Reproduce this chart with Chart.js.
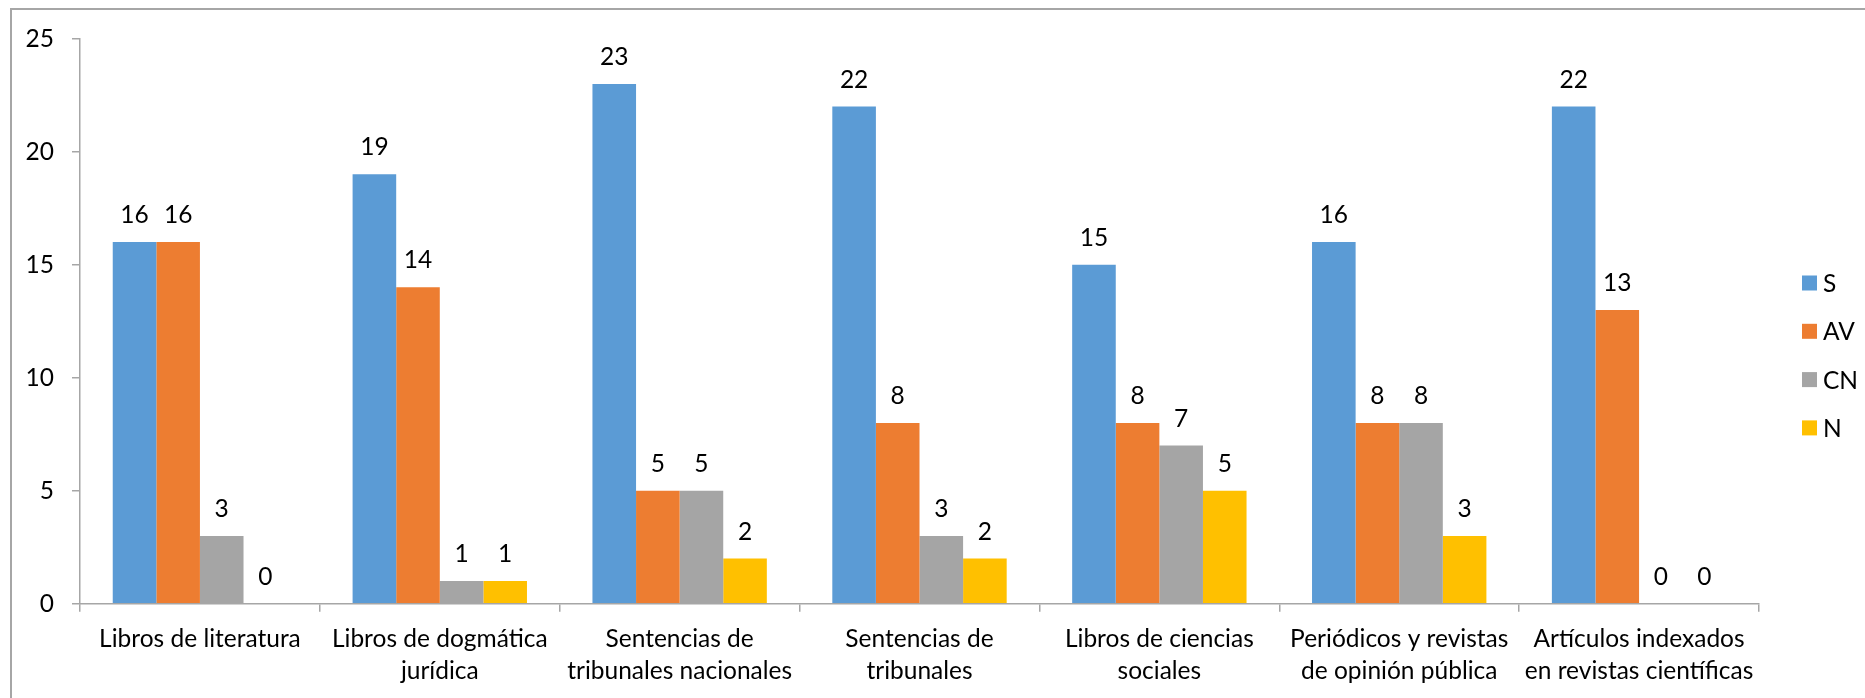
<!DOCTYPE html>
<html>
<head>
<meta charset="utf-8">
<script src="https://cdn.jsdelivr.net/npm/chart.js@4/dist/chart.umd.min.js"></script>
<style>
  html, body { margin: 0; padding: 0; background: #fff; }
  #wrap { width: 1865px; height: 698px; position: relative; }
</style>
</head>
<body>
<div id="wrap"><canvas id="fuentesChart" width="1865" height="698"></canvas></div>
<script>
// categorias (eje x)
const categorias = [
    'Libros de literatura',
    ['Libros de dogmática', 'jurídica'],
    ['Sentencias de', 'tribunales nacionales'],
    ['Sentencias de', 'tribunales'],
    ['Libros de ciencias', 'sociales'],
    ['Periódicos y revistas', 'de opinión pública'],
    ['Artículos indexados', 'en revistas científicas']
];

// series
const serieS  = [16, 19, 23, 22, 15, 16, 22];
const serieAV = [16, 14, 5, 8, 8, 8, 13];
const serieCN = [3, 1, 5, 3, 7, 8, 0];
const serieN  = [0, 1, 2, 2, 5, 3, 0];

const yTicks = [0, 5, 10, 15, 20, 25];

const FONT = 'Lato, "Noto Sans", sans-serif';
const FONT_SIZE = 24.5;
const AXIS_COLOR = '#a6a6a6';

// etiquetas encima de cada barra
const valueLabels = {
    id: 'valueLabels',
    afterDatasetsDraw(chart) {
        const ctx = chart.ctx;
        ctx.save();
        ctx.font = FONT_SIZE + 'px ' + FONT;
        ctx.fillStyle = '#000';
        ctx.textAlign = 'center';
        ctx.textBaseline = 'alphabetic';
        chart.data.datasets.forEach((ds, i) => {
            const meta = chart.getDatasetMeta(i);
            meta.data.forEach((bar, j) => {
                ctx.fillText(String(ds.data[j]), bar.x, bar.y - 19);
            });
        });
        ctx.restore();
    }
};

// leyenda a la derecha + marco del grafico
const sideLegend = {
    id: 'sideLegend',
    beforeDraw(chart) {
        const ctx = chart.ctx;
        ctx.save();
        ctx.strokeStyle = AXIS_COLOR;
        ctx.lineWidth = 2;
        ctx.beginPath();
        ctx.moveTo(11, chart.height);
        ctx.lineTo(11, 9);
        ctx.lineTo(chart.width, 9);
        ctx.stroke();
        ctx.restore();
    },
    afterDraw(chart) {
        const ctx = chart.ctx;
        ctx.save();
        ctx.font = FONT_SIZE + 'px ' + FONT;
        ctx.textBaseline = 'middle';
        ctx.textAlign = 'left';
        chart.data.datasets.forEach((ds, i) => {
            const cy = 283 + i * 48.3;
            ctx.fillStyle = ds.backgroundColor;
            ctx.fillRect(1802, cy - 7.5, 15, 15);
            ctx.fillStyle = '#000';
            ctx.fillText(ds.label, 1823, cy + 1);
        });
        ctx.restore();
    }
};

const data = {
    labels: categorias,
    datasets: [
        { label: 'S',  data: serieS,  backgroundColor: '#5b9bd5' },
        { label: 'AV', data: serieAV, backgroundColor: '#ed7d31' },
        { label: 'CN', data: serieCN, backgroundColor: '#a5a5a5' },
        { label: 'N',  data: serieN,  backgroundColor: '#ffc000' }
    ]
};

const options = {
    responsive: false,
    animation: false,
    layout: {
        padding: { top: 38.7, right: 106, left: 0, bottom: 0 }
    },
    datasets: {
        bar: {
            categoryPercentage: 0.727,
            barPercentage: 1.0
        }
    },
    scales: {
        x: {
            grid: {
                offset: true,
                drawOnChartArea: false,
                color: AXIS_COLOR,
                tickLength: 8,
                lineWidth: 1.5
            },
            border: { color: AXIS_COLOR, width: 1.5 },
            ticks: {
                color: '#000',
                padding: 11,
                maxRotation: 0,
                autoSkip: false,
                font: { family: FONT, size: FONT_SIZE, lineHeight: 1.314 }
            },
            afterFit(scale) { scale.height = 94.3; }
        },
        y: {
            min: 0,
            max: 25,
            afterBuildTicks(scale) {
                scale.ticks = yTicks.map(v => ({ value: v }));
            },
            grid: {
                drawOnChartArea: false,
                color: AXIS_COLOR,
                tickLength: 8,
                lineWidth: 1.5
            },
            border: { color: AXIS_COLOR, width: 1.5 },
            ticks: {
                color: '#000',
                padding: 18,
                font: { family: FONT, size: FONT_SIZE }
            },
            afterFit(scale) { scale.width = 80; }
        }
    },
    plugins: {
        legend: { display: false },
        tooltip: { enabled: false }
    }
};

new Chart(document.getElementById('fuentesChart').getContext('2d'), {
    type: 'bar',
    data: data,
    options: options,
    plugins: [valueLabels, sideLegend]
});
</script>
</body>
</html>
